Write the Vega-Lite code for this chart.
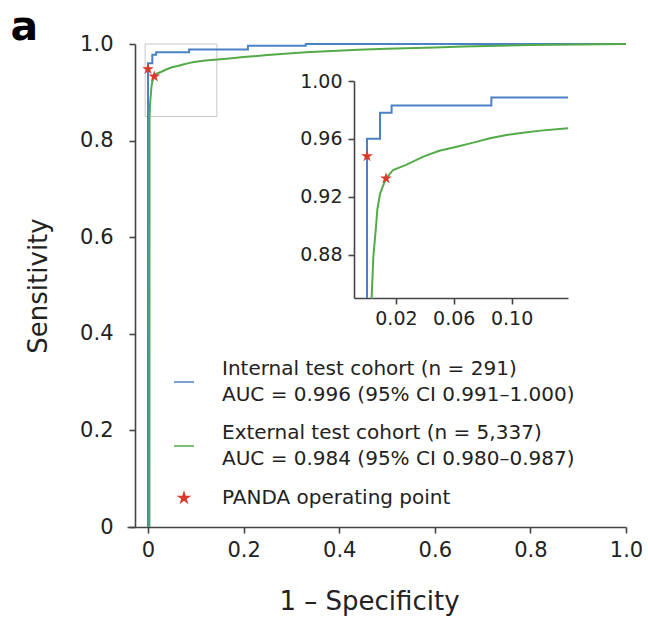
{
  "$schema": "https://vega.github.io/schema/vega-lite/v6.json",
  "width": 499,
  "height": 483,
  "autosize": {"type": "none"},
  "padding": {"left": 127, "top": 44, "right": 22, "bottom": 99},
  "background": "white",
  "title": {"text": "a", "anchor": "start", "frame": "bounds", "fontSize": 41, "fontWeight": "bold", "font": "DejaVu Sans", "color": "#000", "dx": -15, "dy": 20},
  "config": {
    "view": {"stroke": null},
    "font": "DejaVu Sans",
    "axis": {"grid": false, "domainColor": "#444", "domainWidth": 1.6, "tickColor": "#444", "tickWidth": 1.6, "labelColor": "#222", "titleColor": "#222", "labelFont": "DejaVu Sans", "titleFont": "DejaVu Sans", "titleFontWeight": "normal"},
    "legend": {"labelFont": "DejaVu Sans"}
  },
  "datasets": {
    "roc": [
      {"series": "Internal", "fpr": 0, "tpr": 0},
      {"series": "Internal", "fpr": 0, "tpr": 0.96},
      {"series": "Internal", "fpr": 0.009, "tpr": 0.96},
      {"series": "Internal", "fpr": 0.009, "tpr": 0.978},
      {"series": "Internal", "fpr": 0.017, "tpr": 0.978},
      {"series": "Internal", "fpr": 0.017, "tpr": 0.983},
      {"series": "Internal", "fpr": 0.086, "tpr": 0.983},
      {"series": "Internal", "fpr": 0.086, "tpr": 0.9886},
      {"series": "Internal", "fpr": 0.139, "tpr": 0.9886},
      {"series": "Internal", "fpr": 0.209, "tpr": 0.9886},
      {"series": "Internal", "fpr": 0.209, "tpr": 0.9965},
      {"series": "Internal", "fpr": 0.33, "tpr": 0.9965},
      {"series": "Internal", "fpr": 0.33, "tpr": 1},
      {"series": "Internal", "fpr": 1, "tpr": 1},
      {"series": "External", "fpr": 0.003, "tpr": 0},
      {"series": "External", "fpr": 0.0032, "tpr": 0.85},
      {"series": "External", "fpr": 0.0044, "tpr": 0.879},
      {"series": "External", "fpr": 0.0062, "tpr": 0.899},
      {"series": "External", "fpr": 0.0071, "tpr": 0.911},
      {"series": "External", "fpr": 0.009, "tpr": 0.922},
      {"series": "External", "fpr": 0.0113, "tpr": 0.928},
      {"series": "External", "fpr": 0.0131, "tpr": 0.9325},
      {"series": "External", "fpr": 0.018, "tpr": 0.9385},
      {"series": "External", "fpr": 0.027, "tpr": 0.942},
      {"series": "External", "fpr": 0.039, "tpr": 0.9477},
      {"series": "External", "fpr": 0.05, "tpr": 0.9518},
      {"series": "External", "fpr": 0.062, "tpr": 0.9546},
      {"series": "External", "fpr": 0.0735, "tpr": 0.9574},
      {"series": "External", "fpr": 0.085, "tpr": 0.9604},
      {"series": "External", "fpr": 0.0965, "tpr": 0.9627},
      {"series": "External", "fpr": 0.108, "tpr": 0.9643},
      {"series": "External", "fpr": 0.12, "tpr": 0.9657},
      {"series": "External", "fpr": 0.139, "tpr": 0.9673},
      {"series": "External", "fpr": 0.17, "tpr": 0.97},
      {"series": "External", "fpr": 0.2, "tpr": 0.973},
      {"series": "External", "fpr": 0.25, "tpr": 0.977},
      {"series": "External", "fpr": 0.33, "tpr": 0.983},
      {"series": "External", "fpr": 0.44, "tpr": 0.988},
      {"series": "External", "fpr": 0.5, "tpr": 0.99},
      {"series": "External", "fpr": 0.6, "tpr": 0.993},
      {"series": "External", "fpr": 0.66, "tpr": 0.995},
      {"series": "External", "fpr": 0.8, "tpr": 0.998},
      {"series": "External", "fpr": 1, "tpr": 1}
    ],
    "panda": [
      {"series": "PANDA", "cohort": "Internal", "fpr": 0.0, "tpr": 0.948},
      {"series": "PANDA", "cohort": "External", "fpr": 0.0131, "tpr": 0.9327}
    ],
    "zoom": [{"x0": -0.006, "x1": 0.144, "y0": 0.85, "y1": 1.0}]
  },
  "layer": [
    {
      "layer": [
        {
          "data": {"name": "zoom"},
          "mark": {"type": "rect", "fillOpacity": 0, "stroke": "#c8c8c8", "strokeWidth": 1},
          "encoding": {
            "x": {"field": "x0", "type": "quantitative", "title": "1 – Specificity",
              "scale": {"domain": [-0.044, 1], "nice": false, "zero": false},
              "axis": {"values": [0, 0.2, 0.4, 0.6, 0.8, 1.0], "labelExpr": "datum.value == 0 ? '0' : format(datum.value, '.1f')", "labelFontSize": 21, "titleFontSize": 26, "tickSize": 6, "labelPadding": 6, "titlePadding": 28, "labelFlush": false, "titleX": 242}},
            "x2": {"field": "x1"},
            "y": {"field": "y0", "type": "quantitative", "title": "Sensitivity",
              "scale": {"domain": [0, 1], "nice": false, "zero": false},
              "axis": {"values": [0, 0.2, 0.4, 0.6, 0.8, 1.0], "labelExpr": "datum.value == 0 ? '0' : format(datum.value, '.1f')", "labelFontSize": 21, "titleFontSize": 26, "tickSize": 6, "labelPadding": 16, "titlePadding": 28, "offset": -8, "labelFlush": false}},
            "y2": {"field": "y1"}
          }
        },
        {
          "data": {"name": "roc"},
          "mark": {"type": "line", "strokeWidth": 2},
          "encoding": {
            "x": {"field": "fpr", "type": "quantitative", "title": "1 – Specificity"},
            "y": {"field": "tpr", "type": "quantitative", "title": "Sensitivity"},
            "order": [{"field": "fpr"}, {"field": "tpr"}],
            "color": {"field": "series", "type": "nominal",
              "scale": {"domain": ["Internal", "External", "PANDA"], "range": ["#4a80c4", "#52ab48", "#d93a2b"]},
              "legend": {
                "orient": "none", "legendX": 46, "legendY": 327, "title": null, "direction": "vertical",
                "labelExpr": "datum.value == 'Internal' ? ['Internal test cohort (n = 291)', 'AUC = 0.996 (95% CI 0.991–1.000)'] : (datum.value == 'External' ? ['External test cohort (n = 5,337)', 'AUC = 0.984 (95% CI 0.980–0.987)'] : 'PANDA operating point')",
                "labelFontSize": 20, "labelColor": "#222", "labelLimit": 600, "labelOffset": 27, "rowPadding": 18,
                "symbolType": "stroke", "symbolSize": 400, "symbolStrokeWidth": 1.5,
                "encode": {
                  "labels": {"update": {"lineHeight": {"value": 26}, "dy": {"signal": "datum.value == 'PANDA' ? 0 : -13"}}},
                  "symbols": {"update": {
                    "shape": {"signal": "datum.value == 'PANDA' ? 'M0,-1L0.2245,-0.309L0.951,-0.309L0.363,0.118L0.588,0.809L0,0.382L-0.588,0.809L-0.363,0.118L-0.951,-0.309L-0.2245,-0.309Z' : 'stroke'"},
                    "size": {"signal": "datum.value == 'PANDA' ? 110 : 400"},
                    "fill": {"signal": "datum.value == 'PANDA' ? '#d93a2b' : 'transparent'"},
                    "stroke": {"signal": "datum.value == 'PANDA' ? 'transparent' : (datum.value == 'Internal' ? '#4a80c4' : '#52ab48')"},
                    "strokeWidth": {"value": 1.5}
                  }}
                }
              }
            }
          }
        },
        {
          "data": {"name": "panda"},
          "mark": {"type": "point", "shape": "M0,-1L0.2245,-0.309L0.951,-0.309L0.363,0.118L0.588,0.809L0,0.382L-0.588,0.809L-0.363,0.118L-0.951,-0.309L-0.2245,-0.309Z", "filled": true, "size": 150, "opacity": 1},
          "encoding": {
            "x": {"field": "fpr", "type": "quantitative", "title": "1 – Specificity"},
            "y": {"field": "tpr", "type": "quantitative", "title": "Sensitivity"},
            "color": {"field": "series", "type": "nominal"}
          }
        }
      ]
    },
    {
      "layer": [
        {
          "data": {"name": "roc"},
          "transform": [{"filter": "datum.fpr <= 0.14"}],
          "mark": {"type": "line", "strokeWidth": 2},
          "encoding": {
            "x": {"field": "fpr", "type": "quantitative", "title": null,
              "scale": {"domain": [-0.009, 0.139], "range": [227, 441], "nice": false, "zero": false},
              "axis": {"orient": "bottom", "offset": -229, "values": [0.02, 0.06, 0.1], "format": ".2f", "labelFontSize": 19, "tickSize": 6, "labelPadding": 5, "labelFlush": false}},
            "y": {"field": "tpr", "type": "quantitative", "title": null,
              "scale": {"domain": [0.85, 1.0], "range": [254, 37], "nice": false, "zero": false, "clamp": true},
              "axis": {"orient": "left", "offset": -227, "values": [0.88, 0.92, 0.96, 1.0], "format": ".2f", "labelFontSize": 19, "tickSize": 6, "labelPadding": 6, "labelFlush": false}},
            "order": [{"field": "fpr"}, {"field": "tpr"}],
            "color": {"field": "series", "type": "nominal"}
          }
        },
        {
          "data": {"name": "panda"},
          "mark": {"type": "point", "shape": "M0,-1L0.2245,-0.309L0.951,-0.309L0.363,0.118L0.588,0.809L0,0.382L-0.588,0.809L-0.363,0.118L-0.951,-0.309L-0.2245,-0.309Z", "filled": true, "size": 150, "opacity": 1},
          "encoding": {
            "x": {"field": "fpr", "type": "quantitative", "title": null},
            "y": {"field": "tpr", "type": "quantitative", "title": null},
            "color": {"field": "series", "type": "nominal"}
          }
        }
      ]
    }
  ],
  "resolve": {"scale": {"x": "independent", "y": "independent"}, "axis": {"x": "independent", "y": "independent"}}
}
